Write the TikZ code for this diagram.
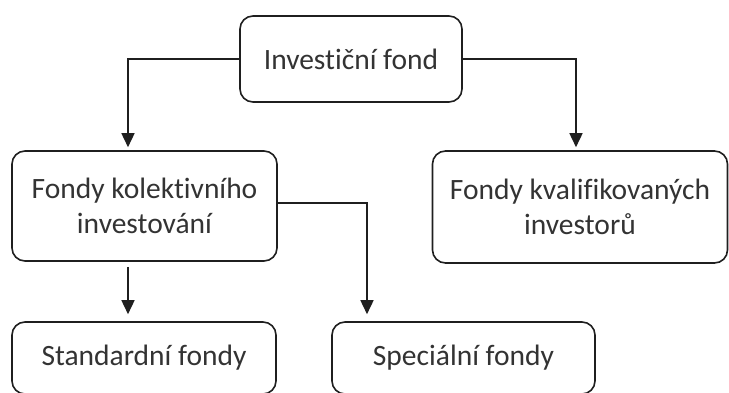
\documentclass[tikz,border=0pt]{standalone}
\usepackage{fontspec}
\setmainfont{Carlito}[Ligatures=NoCommon]
\usetikzlibrary{arrows.meta}
\definecolor{linec}{HTML}{1F1F1F}
\definecolor{textc}{HTML}{333333}
\tikzset{
  fbox/.style={draw=linec, line width=1.6pt, rounded corners=13pt, inner sep=0pt,
    align=center, text=textc, font=\fontsize{29.5}{35}\selectfont},
  arr/.style={draw=linec, line width=1.6pt, -{Triangle[width=13pt,length=14pt]}}
}
\begin{document}
\begin{tikzpicture}[x=1pt,y=1pt]
\useasboundingbox (0,0) rectangle (729,392);
\clip (0,0) rectangle (729,392);
\node[fbox, minimum width=222pt, minimum height=86pt] (top) at (351,333) {Investiční fond};
\node[fbox, minimum width=265pt, minimum height=110pt] (fki) at (144.5,186) {Fondy kolektivního\\investování};
\node[fbox, minimum width=295pt, minimum height=112pt] (fkv) at (580,185) {Fondy kvalifikovaných\\investorů};
\node[fbox, minimum width=264pt, minimum height=72pt] (std) at (144,34) {Standardní fondy};
\node[fbox, minimum width=263pt, minimum height=72pt] (spec) at (463.5,34) {Speciální fondy};
\coordinate (c1) at (128,0);
\coordinate (c2) at (367,0);
\coordinate (c3) at (576,0);
\draw[arr, shorten >=3pt] (top.west) -| (fki.north -| c1);
\draw[arr, shorten >=3pt] (top.east) -| (fkv.north -| c3);
\draw[arr, shorten <=5pt, shorten >=7pt] (fki.south -| c1) -- (std.north -| c1);
\draw[arr, shorten >=7pt] ([yshift=3pt]fki.east) -| (spec.north -| c2);
\end{tikzpicture}
\end{document}
